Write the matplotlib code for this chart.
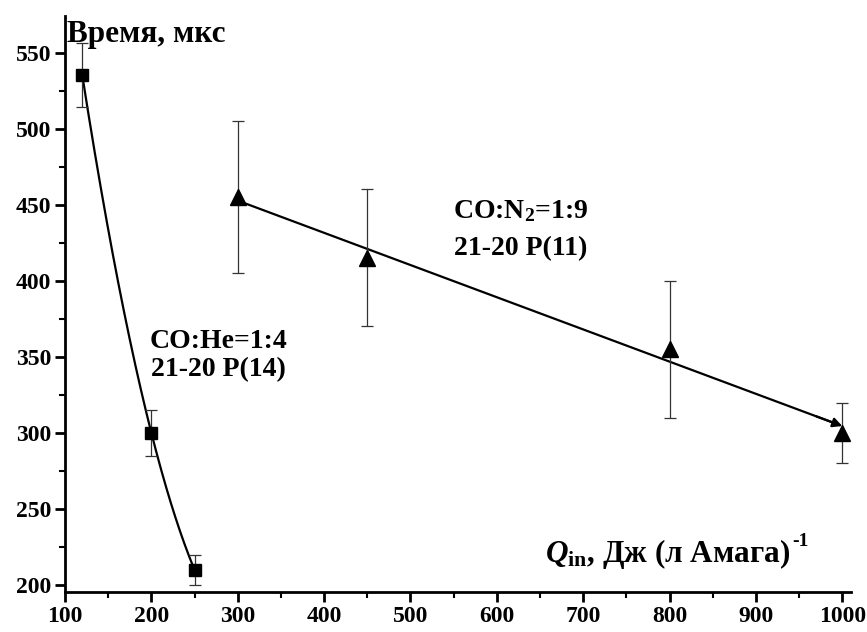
import matplotlib
matplotlib.use("Agg")
import matplotlib.pyplot as plt
import numpy as np
from matplotlib.ticker import MultipleLocator

plt.rcParams["font.family"] = "Liberation Serif"
plt.rcParams["font.weight"] = "bold"
plt.rcParams["mathtext.fontset"] = "custom"
plt.rcParams["mathtext.rm"] = "Liberation Serif:bold"
plt.rcParams["mathtext.it"] = "Liberation Serif:italic:bold"
plt.rcParams["mathtext.bf"] = "Liberation Serif:bold"

# CO:He = 1:4, 21-20 P(14)
q_he = [120, 200, 250]
t_he = [535, 300, 210]
err_he = [21, 15, 10]

# CO:N2 = 1:9, 21-20 P(11)
q_n2 = [300, 450, 800, 1000]
t_n2 = [455, 415, 355, 300]
err_n2 = [50, 45, 45, 20]

fig = plt.figure(figsize=(8.67, 6.32), dpi=100)
ax = fig.add_axes([0.075, 0.0633, 0.9065, 0.9114])

# smooth curve through the helium points
c_he = np.polyfit(q_he, t_he, 2)
xs = np.linspace(q_he[0], q_he[-1], 200)
ax.plot(xs, np.polyval(c_he, xs), color="k", lw=1.6, zorder=2)

# straight fit for the nitrogen points, ending in an arrow
c_n2 = np.polyfit(q_n2, t_n2, 1)
xs2 = np.linspace(q_n2[0], q_n2[-1] - 12, 200)
ax.plot(xs2, np.polyval(c_n2, xs2), color="k", lw=1.6, zorder=2)
ax.annotate("", xy=(q_n2[-1], np.polyval(c_n2, q_n2[-1])),
            xytext=(q_n2[-1] - 30, np.polyval(c_n2, q_n2[-1] - 30)),
            arrowprops=dict(arrowstyle="-|>", color="k", lw=1.6,
                            mutation_scale=14, shrinkA=0, shrinkB=0))

ax.errorbar(q_he, t_he, yerr=err_he, fmt="s", color="k", ms=9,
            ecolor="#333333", elinewidth=0.9, capsize=4, capthick=0.9, zorder=3)
ax.errorbar(q_n2, t_n2, yerr=err_n2, fmt="^", color="k", ms=11,
            ecolor="#333333", elinewidth=0.9, capsize=4, capthick=0.9, zorder=3)

ax.set_xlim(100, 1010)
ax.set_ylim(195.5, 574)
ax.xaxis.set_major_locator(MultipleLocator(100))
ax.xaxis.set_minor_locator(MultipleLocator(50))
ax.yaxis.set_major_locator(MultipleLocator(50))
ax.yaxis.set_minor_locator(MultipleLocator(25))

for side in ("top", "right"):
    ax.spines[side].set_visible(False)
for side in ("left", "bottom"):
    ax.spines[side].set_linewidth(2)

ax.tick_params(which="major", direction="out", length=7, width=2,
               labelsize=17, pad=3)
ax.tick_params(which="minor", direction="out", length=4, width=1.5)
for lab in ax.get_xticklabels() + ax.get_yticklabels():
    lab.set_fontweight("bold")

ax.text(102, 557, "Время, мкс", fontsize=22.5, fontweight="bold")
ax.text(198, 356, "CO:He=1:4", fontsize=20, fontweight="bold")
ax.text(200, 337.5, "21-20 P(14)", fontsize=20, fontweight="bold")
ax.text(549, 441, r"CO:N$_{\rm 2}$=1:9", fontsize=20, fontweight="bold")
ax.text(550, 417, "21-20 P(11)", fontsize=20, fontweight="bold")
qlab = ax.text(656, 215, r"$Q_{\rm in}$, Дж (л Амага)",
               fontsize=22.5, fontweight="bold")
ax.annotate("-1", xy=(1.0, 0.62), xycoords=qlab, xytext=(1, 0),
            textcoords="offset points", fontsize=14, fontweight="bold",
            va="bottom", ha="left")

fig.savefig("out.png", dpi=100)
